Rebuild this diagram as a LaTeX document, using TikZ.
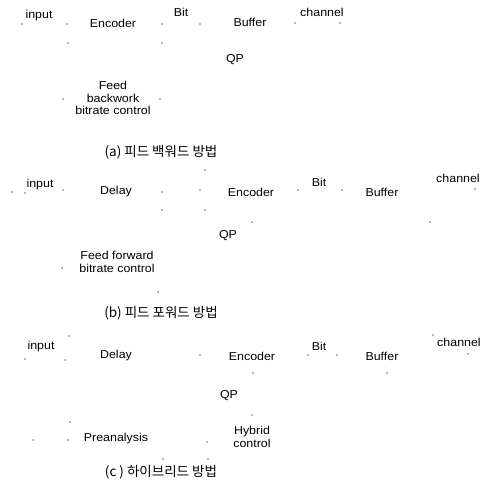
\documentclass[tikz,border=0pt]{standalone}
\usepackage{fontspec}
\setmainfont{Liberation Sans}[FakeStretch=1.08]
\newfontfamily\krfont{Noto Sans CJK KR}
\tikzset{
  lbl/.style = {inner sep = 0pt, align = center, font = \fontsize{11.5}{12.5}\selectfont},
  captxt/.style = {inner sep = 0pt, font = \krfont\fontsize{13.5}{15}\selectfont},
  speck/.style = {fill = black!55, draw = none}
}
\begin{document}
\begin{tikzpicture}[x = 1pt, y = -1pt]
\useasboundingbox (0,0) rectangle (481,488);
% (a)
\node [lbl] (inA) at (39,16) {input};
\node [lbl] (encA) at (113,23.5) {Encoder};
\node [lbl] (bitA) at (181,12.5) {Bit};
\node [lbl] (bufA) at (250,22.5) {Buffer};
\node [lbl] (chA) at (322,12.5) {channel};
\node [lbl] (qpA) at (235,60) {QP};
\node [lbl] (fbA) at (113,98) {Feed\\backwork\\bitrate control};
\node [captxt] (capA) at (161,152) {(a) 피드 백워드 방법};
% (b)
\node [lbl] (inB) at (40,185) {input};
\node [lbl] (dlyB) at (116,192) {Delay};
\node [lbl] (encB) at (251,192) {Encoder};
\node [lbl] (bitB) at (319,182) {Bit};
\node [lbl] (bufB) at (382,192) {Buffer};
\node [lbl] (chB) at (458,178) {channel};
\node [lbl] (qpB) at (228,236) {QP};
\node [lbl] (ffB) at (117,262) {Feed forward\\bitrate control};
\node [captxt] (capB) at (161,313) {(b) 피드 포워드 방법};
% (c)
\node [lbl] (inC) at (41,347) {input};
\node [lbl] (dlyC) at (116,356) {Delay};
\node [lbl] (encC) at (252,356) {Encoder};
\node [lbl] (bitC) at (319,346) {Bit};
\node [lbl] (bufC) at (382,356) {Buffer};
\node [lbl] (chC) at (459,342) {channel};
\node [lbl] (qpC) at (229,396) {QP};
\node [lbl] (preC) at (116,439) {Preanalysis};
\node [lbl] (hybC) at (252,437) {Hybrid\\control};
\node [captxt] (capC) at (161,472) {(c ) 하이브리드 방법};
% specks left of the lines
\foreach \x/\y in {22/24, 67/24, 162/24, 200/24, 295/23, 340/23, 68/43, 162/43, 63/99, 160/99,
  12/192, 25/193, 63/190, 162/192, 200/190, 298/190, 342/190, 475/189, 162/210, 205/210,
  205/170, 252/222, 430/222, 62/268, 158/292,
  25/359, 65/360, 69/336, 200/355, 308/355, 337/355, 468/354, 253/373, 387/373, 33/440,
  68/440, 70/422, 207/442, 252/415, 163/459, 208/459, 433/335}
  {\fill [speck] (\x,\y) circle (0.8pt);}
\end{tikzpicture}
\end{document}
